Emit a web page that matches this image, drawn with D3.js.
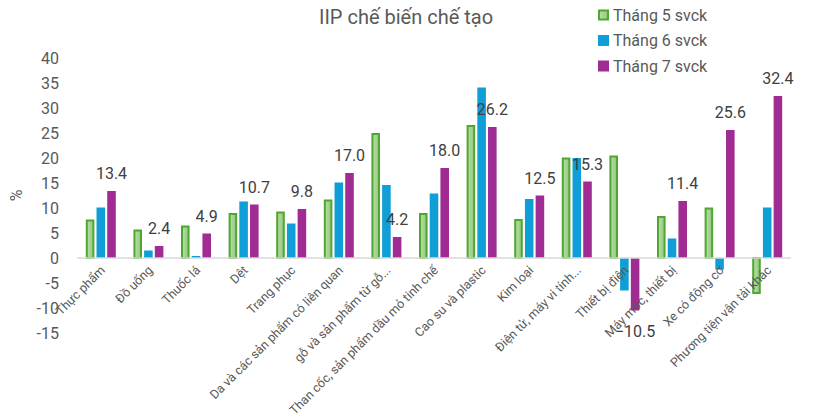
<!DOCTYPE html>
<html>
<head>
<meta charset="utf-8">
<script src="https://cdn.jsdelivr.net/npm/d3@7"></script>
<style>
  body { margin: 0; background: #fff; }
  text { font-family: Roboto, "Liberation Sans", sans-serif; }
</style>
</head>
<body>
<div id="chart"></div>
<script>
// categories and series values (% yoy)
var categories = ["Thực phẩm", "Đồ uống", "Thuốc lá", "Dệt", "Trang phục",
  "Da và các sản phẩm có liên quan", "gỗ và sản phẩm từ gỗ...",
  "Than cốc, sản phẩm dầu mỏ tinh chế", "Cao su và plastic", "Kim loại",
  "Điện tử, máy vi tính...", "Thiết bị điện", "Máy móc, thiết bị",
  "Xe có động cơ", "Phương tiện vận tải khác"];
var seriesNames = ["Tháng 5 svck", "Tháng 6 svck", "Tháng 7 svck"];
var thang5 = [7.5, 5.5, 6.3, 8.8, 9.1, 11.5, 24.8, 8.8, 26.4, 7.6, 19.9, 20.3, 8.2, 9.9, -7.0];
var thang6 = [10.1, 1.5, 0.4, 11.3, 6.9, 15.1, 14.6, 12.9, 34.1, 11.8, 20.0, -6.5, 3.9, -2.3, 10.1];
var thang7 = [13.4, 2.4, 4.9, 10.7, 9.8, 17.0, 4.2, 18.0, 26.2, 12.5, 15.3, -10.5, 11.4, 25.6, 32.4];
var yTicks = [-15, -10, -5, 0, 5, 10, 15, 20, 25, 30, 35, 40];

var width = 813, height = 418;
var svg = d3.select("#chart").append("svg")
  .attr("width", width)
  .attr("height", height);

var defs = svg.append("defs");
var grad = defs.append("linearGradient").attr("id", "greenFill")
  .attr("x1", "0").attr("x2", "1").attr("y1", "0").attr("y2", "0");
grad.append("stop").attr("offset", "0%").attr("stop-color", "#b9dcaa");
grad.append("stop").attr("offset", "100%").attr("stop-color", "#94c97e");

var fills = ["url(#greenFill)", "#0f9ed5", "#a02b93"];

var x0 = d3.scaleBand().domain(categories).range([77, 791])
  .paddingInner(0.37).paddingOuter(0.185);
var x1 = d3.scaleBand().domain(d3.range(3)).range([0, x0.bandwidth()]).paddingInner(0.2);
var y = d3.scaleLinear().domain([-15, 40]).range([333, 58]);

var rows = categories.map(function(c, i) {
  return { name: c, vals: [thang5[i], thang6[i], thang7[i]] };
});

// y axis tick labels (no axis line)
svg.append("g").selectAll("text")
  .data(yTicks).enter().append("text")
  .attr("x", 59)
  .attr("y", function(d) { return y(d); })
  .attr("dy", "0.35em")
  .attr("text-anchor", "end")
  .attr("font-size", 16)
  .attr("fill", "#595959")
  .text(function(d) { return d < 0 ? "-" + Math.abs(d) : d; });

svg.append("text")
  .attr("transform", "translate(22," + y(12.5) + ") rotate(-90)")
  .attr("text-anchor", "middle")
  .attr("font-size", 16)
  .attr("fill", "#595959")
  .text("%");

// bars
var groups = svg.append("g").selectAll("g")
  .data(rows).enter().append("g")
  .attr("transform", function(d) { return "translate(" + x0(d.name) + ",0)"; });

groups.selectAll("rect")
  .data(function(d) { return d.vals.map(function(v, k) { return { k: k, v: v }; }); })
  .enter().append("rect")
  .attr("x", function(d) { return x1(d.k) + (d.k == 0 ? 1 : 0); })
  .attr("width", function(d) { return x1.bandwidth() - (d.k == 0 ? 2 : 0); })
  .attr("y", function(d) { return y(Math.max(0, d.v)); })
  .attr("height", function(d) { return Math.abs(y(d.v) - y(0)); })
  .attr("fill", function(d) { return fills[d.k]; })
  .attr("stroke", function(d) { return d.k == 0 ? "#4ea72e" : "none"; })
  .attr("stroke-width", 2);

// zero line
svg.append("line")
  .attr("x1", 77).attr("x2", 791)
  .attr("y1", y(0)).attr("y2", y(0))
  .attr("stroke", "#d9d9d9")
  .attr("stroke-width", 1.5);

// data labels for Tháng 7
groups.append("text")
  .attr("x", x1(2) + x1.bandwidth() / 2)
  .attr("y", function(d) {
    var v = d.vals[2];
    return v >= 0 ? y(v) - 12 : y(v) + 26;
  })
  .attr("text-anchor", "middle")
  .attr("font-size", 16)
  .attr("fill", "#404040")
  .text(function(d) { return d3.format(".1f")(d.vals[2]); });

// category labels
svg.append("g").selectAll("text")
  .data(categories).enter().append("text")
  .attr("transform", function(d) {
    return "translate(" + (x0(d) + x0.bandwidth() / 2 + 5) + "," + (y(0) + 13) + ") rotate(-45)";
  })
  .attr("text-anchor", "end")
  .attr("font-size", 12.5)
  .attr("fill", "#595959")
  .text(function(d) { return d; });

// title
svg.append("text")
  .attr("x", 406).attr("y", 24)
  .attr("text-anchor", "middle")
  .attr("font-size", 20)
  .attr("fill", "#595959")
  .text("IIP chế biến chế tạo");

// legend
var legend = svg.append("g").selectAll("g")
  .data(seriesNames).enter().append("g")
  .attr("transform", function(d, i) { return "translate(598," + (15 + i * 25.5) + ")"; });

legend.append("rect")
  .attr("x", function(d, i) { return i == 0 ? 1 : 0; })
  .attr("y", function(d, i) { return i == 0 ? -4.5 : -5.5; })
  .attr("width", function(d, i) { return i == 0 ? 9 : 11; })
  .attr("height", function(d, i) { return i == 0 ? 9 : 11; })
  .attr("fill", function(d, i) { return fills[i]; })
  .attr("stroke", function(d, i) { return i == 0 ? "#4ea72e" : "none"; })
  .attr("stroke-width", 2);

legend.append("text")
  .attr("x", 15)
  .attr("dy", "0.35em")
  .attr("font-size", 16)
  .attr("fill", "#595959")
  .text(function(d) { return d; });
</script>
</body>
</html>
